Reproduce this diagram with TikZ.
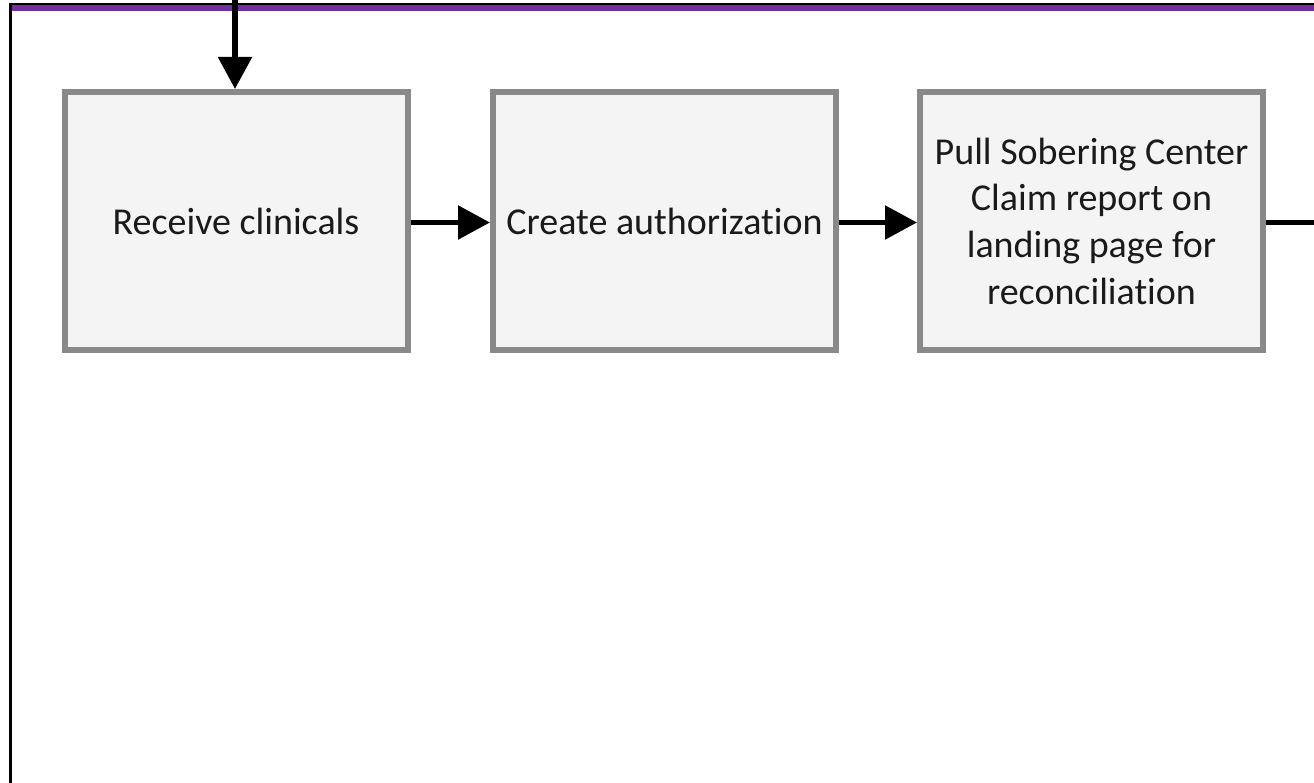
\documentclass[tikz,border=0pt]{standalone}
\usepackage{fontspec}
\setmainfont{Carlito}[Ligatures=NoCommon]
\usetikzlibrary{arrows.meta}
\definecolor{boxgray}{HTML}{898989}
\definecolor{boxfill}{HTML}{F4F4F4}
\definecolor{lanepurple}{HTML}{7030A0}
\definecolor{txt}{HTML}{1A1A1A}
\tikzset{
  stepbox/.style={draw=boxgray, fill=boxfill, line width=6pt, minimum width=343pt, minimum height=258pt, inner sep=0pt, align=center, text=txt, font=\fontsize{38}{46.7}\selectfont},
  flow/.style={line width=5.5pt, -{Triangle[length=32pt,width=33pt]}}
}
\begin{document}
\begin{tikzpicture}[x=1pt,y=-1pt]
\useasboundingbox (0,0) rectangle (1314,783);
\clip (0,0) rectangle (1314,783);
% frame
\draw[line width=1.5pt, black] (10,4) -- (1314,4);
\fill[lanepurple] (11,5.5) rectangle (1314,10.7);
\draw[line width=2.2pt, black] (10.4,3.3) -- (10.4,783);
% boxes
\node[stepbox] (b1) at (236,221) {Receive clinicals};
\node[stepbox] (b2) at (664.5,221) {Create authorization};
\node[stepbox] (b3) at (1091.5,221) {Pull Sobering Center\\Claim report on\\landing page for\\reconciliation};
% connectors
\coordinate (top) at (235,-5);
\coordinate (out) at (1346,222.5);
\draw[flow] (top) -- (top |- b1.north);
\draw[flow] (b1.east |- 0,222.5) -- (b2.west |- 0,222.5);
\draw[flow] (b2.east |- 0,222.5) -- (b3.west |- 0,222.5);
\draw[flow] (b3.east |- 0,222.5) -- (out);
\end{tikzpicture}
\end{document}
